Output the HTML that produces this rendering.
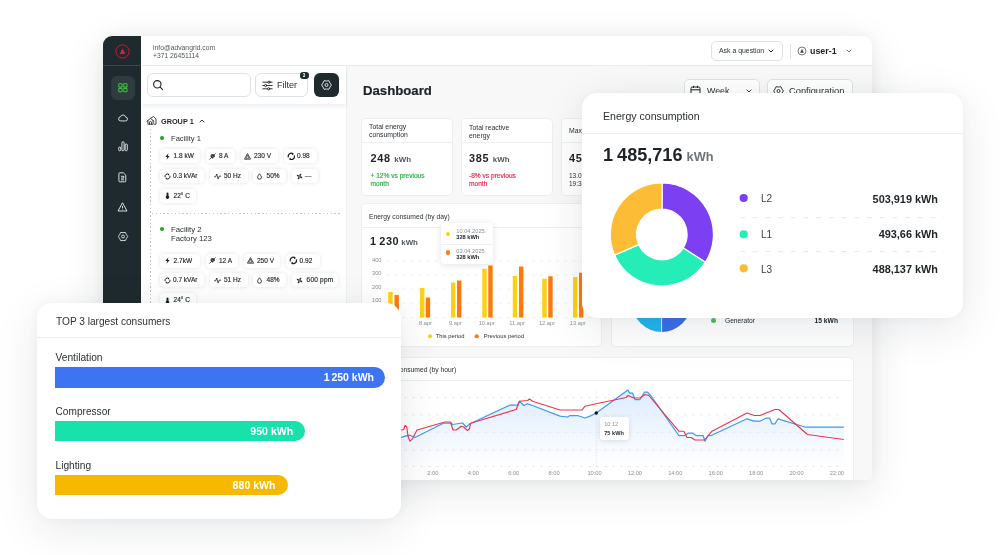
<!DOCTYPE html>
<html><head><meta charset="utf-8">
<style>
*{box-sizing:border-box;margin:0;padding:0}
html,body{width:1000px;height:555px;overflow:hidden;background:#fff}
body{font-family:"Liberation Sans",sans-serif;color:#1d2326;position:relative}
.a{position:absolute}
.t{position:absolute;white-space:nowrap;line-height:10px;font-size:6.5px}
.b{font-weight:bold}
.g{color:#8a9094}
#win{left:103px;top:36px;width:769px;height:444px;border-radius:9px 9px 4px 4px;background:#f8f8f8;box-shadow:0 10px 40px rgba(30,40,50,.11),0 0 14px rgba(30,40,50,.05);overflow:hidden}
#o{left:-103px;top:-36px;width:1000px;height:555px}
#side{left:103px;top:36px;width:38.500px;height:444px;background:#1e2a2d}
#top{left:141px;top:36px;width:731px;height:30px;background:#fff;border-bottom:1px solid #e9ebec}
#lp{left:141px;top:66px;width:206px;height:415px;background:#fff;border-right:1px solid #eef0f1}
#sb{left:141px;top:66px;width:205px;height:38px;background:#fff;box-shadow:0 2px 4px rgba(60,90,140,.10)}
.card{position:absolute;background:#fff;border:1px solid #eceeef;border-radius:5px}
.hr{position:absolute;height:1px;background:#eceeef}
.chip{position:absolute;height:14px;border-radius:4px;background:#fff;box-shadow:0 0 4px rgba(0,0,0,.11);font-size:6.5px;line-height:14.7px;white-space:nowrap;color:#1d2326;-webkit-text-stroke:0.15px #1d2326}
.chip b{position:absolute;top:0;font-weight:normal}
.chip svg{position:absolute;top:3.5px;width:7px;height:7px}
.big{position:absolute;border-radius:15px;background:#fff;box-shadow:0 10px 44px rgba(30,40,60,.10),0 0 12px rgba(30,40,60,.035)}
.btn{position:absolute;background:#fff;border:1px solid #dfe2e4;border-radius:5px}
.dot{position:absolute;border-radius:50%}
</style></head><body>

<div id="win" class="a"><div id="o" class="a">
  <div id="side" class="a"></div>
  <div id="top" class="a"></div>
  <div id="lp" class="a"></div>
  
  <svg class="a" style="left:146px;top:115px" width="11" height="11" viewBox="0 0 11 11" fill="none" stroke="#1d2326" stroke-width="0.85" stroke-linejoin="round" stroke-linecap="round"><path d="M4.800 3 L7.500 1.500 L10 4 V9.200 H8.200"/><path d="M1 6.200 L4.500 3.400 L8 6.200"/><path d="M1.900 5.600 V9.200 H7.100 V5.600"/><path d="M3.500 9.200 V7.400 a1 1 0 0 1 2 0 V9.200"/></svg>
  <div class="t b" style="left:161px;top:116.700px;font-size:7.3px">GROUP 1</div>
  <svg class="a" style="left:199px;top:118.500px" width="6" height="4" viewBox="0 0 6 4" fill="none" stroke="#1d2326" stroke-width="0.9"><path d="M0.7 3.3 L3 1 L5.3 3.300"/></svg>
  <div class="a" style="left:150px;top:129.300px;width:1px;height:360px;background:repeating-linear-gradient(180deg,#bfc3c6 0 1.3px,transparent 1.3px 3.75px)"></div>
  <div class="dot" style="left:160px;top:136px;width:4px;height:4px;background:#23a127"></div>
  <div class="t" style="left:171px;top:133.6px;font-size:7.6px;color:#2a3033">Facility 1</div>
  <div class="a" style="left:152px;top:213px;width:190px;height:1px;background:repeating-linear-gradient(90deg,#c3c7c9 0 1.5px,transparent 1.5px 3.800px)"></div>
  <div class="dot" style="left:159.800px;top:227.2px;width:4px;height:4px;background:#23a127"></div>
  <div class="t" style="left:171px;top:224.6px;font-size:7.75px;color:#2a3033">Facility 2</div>
  <div class="t" style="left:171px;top:233.8px;font-size:7.75px;color:#2a3033">Factory 123</div>

<div class="chip" style="left:160.0px;top:149.0px;width:39.6px"><svg style="left:4.1px" viewBox="0 0 7 7"><path d="M4.5 0.3 L1.3 4.1 H3.2 L2.5 6.8 L5.7 2.9 H3.800 Z" fill="#1d2326"/></svg><b style="left:13.6px">1.8 kW</b></div>
<div class="chip" style="left:205.6px;top:149.0px;width:29.8px"><svg style="left:3.3px" viewBox="0 0 7 7"><g fill="none" stroke="#1d2326" stroke-width="0.8" stroke-linecap="round"><path d="M2.2 2.600 L4.400 4.800 A1.600 1.600 0 0 1 2.2 2.600 Z M3 1.800 L5.2 4 A1.600 1.600 0 0 0 3 1.800 Z" fill="#1d2326"/><path d="M0.7 6.3 L2 5 M5 2 L6.3 0.7"/></g></svg><b style="left:13.4px">8 A</b></div>
<div class="chip" style="left:241.0px;top:149.0px;width:36.6px"><svg style="left:3.1px" viewBox="0 0 7 7"><g fill="none" stroke="#1d2326" stroke-width="0.8" stroke-linejoin="round"><path d="M3.5 0.600 L6.600 6.200 H0.4 Z"/><path d="M3.500 2.200 L2 5.200 H5 Z" stroke-width="0.6"/></g></svg><b style="left:13.0px">230 V</b></div>
<div class="chip" style="left:283.6px;top:149.0px;width:33.0px"><svg style="left:3.0px;top:2.6px;width:8.8px;height:8.8px" viewBox="0 0 7 7"><g fill="none" stroke="#1d2326" stroke-width="1"><path d="M1.150 4.300 A2.450 2.450 0 0 1 4.700 1.350"/><path d="M5.850 2.700 A2.450 2.450 0 0 1 2.300 5.650"/><path d="M3.900 0.400 L5.600 1.500 L4.100 2.500 Z M3.100 6.600 L1.400 5.500 L2.900 4.500 Z" stroke="none" fill="#1d2326"/></g></svg><b style="left:13.4px">0.98</b></div>
<div class="chip" style="left:160.0px;top:253.8px;width:39.6px"><svg style="left:4.1px" viewBox="0 0 7 7"><path d="M4.5 0.3 L1.3 4.1 H3.2 L2.5 6.8 L5.7 2.9 H3.800 Z" fill="#1d2326"/></svg><b style="left:13.6px">2.7kW</b></div>
<div class="chip" style="left:205.6px;top:253.8px;width:32.4px"><svg style="left:3.3px" viewBox="0 0 7 7"><g fill="none" stroke="#1d2326" stroke-width="0.8" stroke-linecap="round"><path d="M2.2 2.600 L4.400 4.800 A1.600 1.600 0 0 1 2.2 2.600 Z M3 1.800 L5.2 4 A1.600 1.600 0 0 0 3 1.800 Z" fill="#1d2326"/><path d="M0.7 6.3 L2 5 M5 2 L6.3 0.7"/></g></svg><b style="left:13.4px">12 A</b></div>
<div class="chip" style="left:243.6px;top:253.8px;width:36.8px"><svg style="left:3.1px" viewBox="0 0 7 7"><g fill="none" stroke="#1d2326" stroke-width="0.8" stroke-linejoin="round"><path d="M3.5 0.600 L6.600 6.200 H0.4 Z"/><path d="M3.500 2.200 L2 5.200 H5 Z" stroke-width="0.6"/></g></svg><b style="left:13.4px">250 V</b></div>
<div class="chip" style="left:286.0px;top:253.8px;width:33.6px"><svg style="left:3.0px;top:2.6px;width:8.8px;height:8.8px" viewBox="0 0 7 7"><g fill="none" stroke="#1d2326" stroke-width="1"><path d="M1.150 4.300 A2.450 2.450 0 0 1 4.700 1.350"/><path d="M5.850 2.700 A2.450 2.450 0 0 1 2.300 5.650"/><path d="M3.900 0.400 L5.600 1.500 L4.100 2.500 Z M3.100 6.600 L1.400 5.500 L2.900 4.500 Z" stroke="none" fill="#1d2326"/></g></svg><b style="left:13.6px">0.92</b></div>
<div class="chip" style="left:160.0px;top:169.0px;width:44.4px"><svg style="left:4.1px" viewBox="0 0 7 7"><g fill="none" stroke="#1d2326" stroke-width="1"><path d="M1.150 4.300 A2.450 2.450 0 0 1 4.700 1.350"/><path d="M5.850 2.700 A2.450 2.450 0 0 1 2.300 5.650"/><path d="M3.900 0.400 L5.600 1.500 L4.100 2.500 Z M3.100 6.600 L1.400 5.500 L2.900 4.500 Z" stroke="none" fill="#1d2326"/></g></svg><b style="left:13.0px">0.3 kVAr</b></div>
<div class="chip" style="left:210.0px;top:169.0px;width:37.6px"><svg style="left:3.9px" viewBox="0 0 7 7"><path d="M0.2 3.800 H1.700 L2.700 1 L4.200 6 L5.200 3.200 H6.800" fill="none" stroke="#1d2326" stroke-width="0.8" stroke-linejoin="round" stroke-linecap="round"/></svg><b style="left:14.0px">50 Hz</b></div>
<div class="chip" style="left:252.6px;top:169.0px;width:33.4px"><svg style="left:3.9px" viewBox="0 0 7 7"><path d="M3.5 0.800 C4.600 2.200 5.400 3.200 5.400 4.300 A1.900 1.900 0 0 1 1.600 4.300 C1.600 3.200 2.400 2.200 3.500 0.800 Z" fill="none" stroke="#1d2326" stroke-width="0.900"/></svg><b style="left:14.0px">50%</b></div>
<div class="chip" style="left:291.6px;top:169.0px;width:26.4px"><svg style="left:4.3px" viewBox="0 0 7 7"><g fill="#1d2326"><path d="M3.500 3.500 C3 1.800 3.800 0.600 5.200 0.800 C5.600 1.800 4.800 2.800 3.500 3.500 Z"/><path d="M3.500 3.500 C5.200 3 6.400 3.800 6.200 5.200 C5.200 5.600 4.200 4.800 3.500 3.500 Z"/><path d="M3.500 3.500 C4 5.200 3.200 6.400 1.800 6.200 C1.400 5.200 2.200 4.200 3.500 3.500 Z"/><path d="M3.500 3.500 C1.800 4 0.600 3.200 0.800 1.800 C1.800 1.400 2.800 2.200 3.500 3.500 Z"/></g></svg><b style="left:13.4px">—</b></div>
<div class="chip" style="left:160.0px;top:273.4px;width:44.4px"><svg style="left:4.1px" viewBox="0 0 7 7"><g fill="none" stroke="#1d2326" stroke-width="1"><path d="M1.150 4.300 A2.450 2.450 0 0 1 4.700 1.350"/><path d="M5.850 2.700 A2.450 2.450 0 0 1 2.300 5.650"/><path d="M3.900 0.400 L5.600 1.500 L4.100 2.500 Z M3.100 6.600 L1.400 5.500 L2.900 4.500 Z" stroke="none" fill="#1d2326"/></g></svg><b style="left:13.0px">0.7 kVAr</b></div>
<div class="chip" style="left:210.0px;top:273.4px;width:37.6px"><svg style="left:3.9px" viewBox="0 0 7 7"><path d="M0.2 3.800 H1.700 L2.700 1 L4.200 6 L5.200 3.200 H6.800" fill="none" stroke="#1d2326" stroke-width="0.8" stroke-linejoin="round" stroke-linecap="round"/></svg><b style="left:14.0px">51 Hz</b></div>
<div class="chip" style="left:252.6px;top:273.4px;width:33.4px"><svg style="left:3.9px" viewBox="0 0 7 7"><path d="M3.5 0.800 C4.600 2.200 5.400 3.200 5.400 4.300 A1.900 1.900 0 0 1 1.600 4.300 C1.600 3.200 2.400 2.200 3.500 0.800 Z" fill="none" stroke="#1d2326" stroke-width="0.900"/></svg><b style="left:14.0px">48%</b></div>
<div class="chip" style="left:291.6px;top:273.4px;width:46.4px"><svg style="left:4.3px" viewBox="0 0 7 7"><g fill="#1d2326"><path d="M3.500 3.500 C3 1.800 3.800 0.600 5.200 0.800 C5.600 1.800 4.800 2.800 3.500 3.500 Z"/><path d="M3.500 3.500 C5.200 3 6.400 3.800 6.200 5.200 C5.200 5.600 4.200 4.800 3.500 3.500 Z"/><path d="M3.500 3.500 C4 5.200 3.200 6.400 1.800 6.200 C1.400 5.200 2.200 4.200 3.500 3.500 Z"/><path d="M3.500 3.500 C1.800 4 0.600 3.200 0.800 1.800 C1.800 1.400 2.800 2.200 3.500 3.500 Z"/></g></svg><b style="left:15.0px;letter-spacing:0.22px">600 ppm</b></div>
<div class="chip" style="left:160.0px;top:188.6px;width:36.4px"><svg style="left:4.1px" viewBox="0 0 7 7"><g fill="#1d2326"><path d="M3.500 0.400 A1 1 0 0 1 4.500 1.400 V3.700 A1.700 1.700 0 1 1 2.500 3.700 V1.400 A1 1 0 0 1 3.500 0.400 Z"/></g></svg><b style="left:13.6px">22° C</b></div>
<div class="chip" style="left:160.0px;top:293.4px;width:36.4px"><svg style="left:4.1px" viewBox="0 0 7 7"><g fill="#1d2326"><path d="M3.500 0.400 A1 1 0 0 1 4.500 1.400 V3.700 A1.700 1.700 0 1 1 2.500 3.700 V1.400 A1 1 0 0 1 3.500 0.400 Z"/></g></svg><b style="left:13.6px">24° C</b></div>
  <div id="sb" class="a"></div>
  
  <div class="btn" style="left:147px;top:72.600px;width:104px;height:24.400px;border-radius:6px"></div>
  <svg class="a" style="left:152px;top:79px" width="12" height="12" viewBox="0 0 12 12" fill="none" stroke="#1d2326" stroke-width="1.1" stroke-linecap="round"><circle cx="5.3" cy="5.3" r="3.7"/><path d="M8.2 8.2 L10.6 10.6"/></svg>
  <div class="btn" style="left:255.300px;top:72.600px;width:53.200px;height:24.400px;border-radius:6px"></div>
  <svg class="a" style="left:262px;top:79.500px" width="11" height="11" viewBox="0 0 11 11" fill="none" stroke="#1d2326" stroke-width="0.9" stroke-linecap="round"><path d="M0.8 2.2 H10.2 M0.8 5.5 H10.2 M0.8 8.800 H10.2"/><circle cx="7" cy="2.2" r="1.1" fill="#fff"/><circle cx="3.6" cy="5.5" r="1.1" fill="#fff"/><circle cx="6.6" cy="8.800" r="1.1" fill="#fff"/></svg>
  <div class="t" style="left:277px;top:80px;font-size:9px;color:#2a3033">Filter</div>
  <div class="a" style="left:299.500px;top:72.400px;width:9px;height:6.400px;border-radius:3.200px;background:#1e2a2d"></div>
  <div class="t b" style="left:299.500px;top:70.600px;width:9px;text-align:center;font-size:4.5px;color:#fff">3</div>
  <div class="a" style="left:314.200px;top:72.600px;width:24.800px;height:24.400px;border-radius:6px;background:#1e2a2d"></div>
  <svg class="a" style="left:321px;top:79px" width="11" height="12" viewBox="0 0 11 12" fill="none" stroke="#fff" stroke-width="0.85" stroke-linejoin="round"><path d="M10.40 6.00 Q8.81 7.91 7.95 10.24 Q5.50 9.82 3.05 10.24 Q2.19 7.91 0.60 6.00 Q2.19 4.09 3.05 1.76 Q5.50 2.18 7.95 1.76 Q8.81 4.09 10.40 6.00 Z"/><circle cx="5.5" cy="6" r="1.5"/></svg>

  
  <div class="a" style="left:103px;top:65px;width:38px;height:1px;background:#3a4649"></div>
  <svg class="a" style="left:114.300px;top:42.600px" width="17" height="17" viewBox="0 0 17 17"><circle cx="8.5" cy="8.5" r="6.600" fill="none" stroke="#d5213f" stroke-width="0.85"/><path d="M8.5 4.900 L9.200 7.300 L9.900 7.300 L10.300 9.500 L11.200 9.900 L11.200 11 L5.800 11 L5.800 9.900 L6.700 9.500 L7.100 7.300 L7.800 7.300 Z" fill="#d5213f"/></svg>
  <div class="a" style="left:111px;top:75.5px;width:24px;height:24px;border-radius:6px;background:#2e3c40"></div>
  <svg class="a" style="left:118.300px;top:83.200px" width="10" height="10" viewBox="0 0 10 10" fill="none" stroke="#3cc13b" stroke-width="1.05"><rect x="0.800" y="0.800" width="3.300" height="3.300" rx="0.450"/><rect x="5.700" y="0.800" width="3.300" height="3.300" rx="0.450"/><rect x="0.800" y="5.500" width="3.300" height="3.300" rx="0.450"/><rect x="5.700" y="5.500" width="3.300" height="3.300" rx="0.450"/></svg>
  <svg class="a" style="left:117.600px;top:113.800px" width="10" height="8" viewBox="0 0 11 9" fill="none" stroke="#eef0f1" stroke-width="1"><path d="M3 7.800 a2.300 2.300 0 0 1 -0.300 -4.600 a3 3 0 0 1 5.800 0.300 a2.100 2.100 0 0 1 -0.300 4.300 Z"/></svg>
  <svg class="a" style="left:117.500px;top:141.400px" width="10" height="10.500" viewBox="0 0 10 10.500" fill="none" stroke="#eef0f1" stroke-width="0.900"><rect x="0.700" y="6" width="2" height="3.800" rx="1"/><rect x="3.900" y="0.700" width="2.200" height="9.100" rx="1.100"/><rect x="7.200" y="3" width="2.100" height="6.800" rx="1.050"/></svg>
  <svg class="a" style="left:118.200px;top:172px" width="9" height="10.500" viewBox="0 0 9 10.500" fill="none" stroke="#eef0f1" stroke-width="0.900" stroke-linejoin="round"><path d="M1.800 0.800 h3.600 l2.400 2.400 v5.700 a0.900 0.900 0 0 1 -0.900 0.900 h-5.100 a0.900 0.900 0 0 1 -0.900 -0.900 v-7.200 a0.900 0.900 0 0 1 0.900 -0.900 Z"/><path d="M3 4.300 h2.800 v1.800 h-2.800 M3 7.800 h3"/></svg>
  <svg class="a" style="left:117px;top:201px" width="11" height="12" viewBox="0 0 11 12" fill="none" stroke="#eef0f1" stroke-width="0.900" stroke-linejoin="round"><path d="M5.5 1.8 L10 10 H1 Z"/><path d="M5.5 5 v2.4 M5.5 8.6 v0.4"/></svg>
  <svg class="a" style="left:117.700px;top:231.400px" width="11" height="12" viewBox="0.300 0.300 11.400 12.400" fill="none" stroke="#eef0f1" stroke-width="0.9" stroke-linejoin="round"><path d="M10.40 6.00 Q8.81 7.91 7.95 10.24 Q5.50 9.82 3.05 10.24 Q2.19 7.91 0.60 6.00 Q2.19 4.09 3.05 1.76 Q5.50 2.18 7.95 1.76 Q8.81 4.09 10.40 6.00 Z"/><circle cx="5.5" cy="6" r="1.5"/></svg>

  
  <div class="t" style="left:153px;top:42.5px;font-size:6.75px;color:#50575b">info@advangrid.com</div>
  <div class="t" style="left:153px;top:50.5px;font-size:6.75px;color:#50575b">+371 26451114</div>
  <div class="btn" style="left:710.500px;top:40.600px;width:72px;height:20.800px;border-radius:5px"></div>
  <div class="t" style="left:719px;top:46.300px;font-size:6.9px;color:#2a3033">Ask a question</div>
  <svg class="a" style="left:768px;top:49px" width="6" height="4" viewBox="0 0 6 4" fill="none" stroke="#1d2326" stroke-width="1"><path d="M0.7 0.7 L3 3 L5.3 0.7"/></svg>
  <div class="a" style="left:790px;top:44px;width:1px;height:15px;background:#dfe2e4"></div>
  <svg class="a" style="left:797px;top:46px" width="10" height="10" viewBox="0 0 10 10"><circle cx="5" cy="5" r="4" fill="none" stroke="#3a4245" stroke-width="0.7"/><path d="M5 2.8 L6.8 6.8 H3.2 Z" fill="#3a4245"/></svg>
  <div class="t b" style="left:810px;top:45.5px;font-size:8.9px">user-1</div>
  <svg class="a" style="left:846px;top:49px" width="6" height="4" viewBox="0 0 6 4" fill="none" stroke="#50575b" stroke-width="0.8"><path d="M0.7 0.7 L3 3 L5.3 0.7"/></svg>

  
  <div class="t b" style="left:363px;top:83px;font-size:13.2px;line-height:16px;-webkit-text-stroke:0.2px">Dashboard</div>
  <div class="btn" style="left:684.300px;top:79px;width:76px;height:23px;border-radius:5px"></div>
  <svg class="a" style="left:690px;top:85px" width="11" height="11" viewBox="0 0 11 11" fill="none" stroke="#1d2326" stroke-width="1"><rect x="1" y="2" width="9" height="8" rx="1.5"/><path d="M1 4.800 H10 M3.500 0.800 V3 M7.500 0.800 V3"/></svg>
  <div class="t" style="left:707px;top:85.5px;font-size:8.8px;color:#2a3033">Week</div>
  <svg class="a" style="left:746px;top:89px" width="6" height="4" viewBox="0 0 6 4" fill="none" stroke="#1d2326" stroke-width="0.9"><path d="M0.700 0.700 L3 3 L5.300 0.700"/></svg>
  <div class="btn" style="left:766.600px;top:79px;width:86px;height:23px;border-radius:5px"></div>
  <svg class="a" style="left:773px;top:84.500px" width="11" height="12" viewBox="0 0 11 12" fill="none" stroke="#1d2326" stroke-width="0.900" stroke-linejoin="round"><path d="M10.40 6.00 Q8.81 7.91 7.95 10.24 Q5.50 9.82 3.05 10.24 Q2.19 7.91 0.60 6.00 Q2.19 4.09 3.05 1.76 Q5.50 2.18 7.95 1.76 Q8.81 4.09 10.40 6.00 Z"/><circle cx="5.500" cy="6" r="1.500"/></svg>
  <div class="t" style="left:789px;top:85.500px;font-size:9.3px;color:#2a3033">Configuration</div>

  <div class="card" style="left:361px;top:118px;width:92px;height:77.500px"></div>
  <div class="hr" style="left:362px;top:142px;width:90px"></div>
  <div class="t" style="left:369px;top:121.800px;font-size:6.85px;color:#2a3033">Total energy</div>
  <div class="t" style="left:369px;top:129.800px;font-size:6.85px;color:#2a3033">consumption</div>
  <div class="t b" style="left:370.500px;top:152px;font-size:10.9px;line-height:13px;letter-spacing:0.65px">248 <span style="font-size:7.9px;color:#50575b;letter-spacing:0">kWh</span></div>
  <div class="t" style="left:370.5px;top:171.0px;font-size:6.6px;-webkit-text-stroke:0.18px;color:#2bb24c">+ 12% vs previous</div>
  <div class="t" style="left:370.5px;top:179.0px;font-size:6.6px;-webkit-text-stroke:0.18px;color:#2bb24c">month</div>

  <div class="card" style="left:461px;top:118px;width:92px;height:77.500px"></div>
  <div class="hr" style="left:462px;top:142px;width:90px"></div>
  <div class="t" style="left:469px;top:122.500px;font-size:6.85px;color:#2a3033">Total reactive</div>
  <div class="t" style="left:469px;top:130.500px;font-size:6.85px;color:#2a3033">energy</div>
  <div class="t b" style="left:469px;top:152px;font-size:10.9px;line-height:13px;letter-spacing:0.65px">385 <span style="font-size:7.9px;color:#50575b;letter-spacing:0">kWh</span></div>
  <div class="t" style="left:469px;top:171.0px;font-size:6.6px;-webkit-text-stroke:0.18px;color:#ee2c4f">-8% vs previous</div>
  <div class="t" style="left:469px;top:179.0px;font-size:6.6px;-webkit-text-stroke:0.18px;color:#ee2c4f">month</div>

  <div class="card" style="left:561px;top:118px;width:92px;height:77.500px"></div>
  <div class="hr" style="left:562px;top:142px;width:90px"></div>
  <div class="t" style="left:569px;top:126px;font-size:6.85px;color:#2a3033">Max</div>
  <div class="t b" style="left:569px;top:152px;font-size:10.9px;line-height:13px;letter-spacing:0.65px">45</div>
  <div class="t" style="left:569px;top:171.0px;color:#2a3033">13.0</div>
  <div class="t" style="left:569px;top:179.0px;color:#2a3033">19:3</div>

  <div class="card" style="left:361px;top:203px;width:241px;height:144px"></div>
  <div class="hr" style="left:362px;top:227px;width:239px"></div>
  <div class="t" style="left:369px;top:211.500px;font-size:6.75px;color:#2a3033">Energy consumed (by day)</div>
  <div class="t b" style="left:370px;top:235.300px;font-size:10.9px;line-height:13px;letter-spacing:0.65px;word-spacing:-1.2px">1 230 <span style="font-size:7.900px;color:#50575b;letter-spacing:0;margin-left:-0.5px">kWh</span></div>
  <svg class="a" style="left:361px;top:203px" width="241" height="144" viewBox="361 203 241 144" font-family="Liberation Sans, sans-serif">
<line x1="386" x2="594" y1="261.1" y2="261.1" stroke="#e6e8e9" stroke-width="0.7" stroke-dasharray="2.8 5.3"/><line x1="386" x2="594" y1="275" y2="275" stroke="#e6e8e9" stroke-width="0.7" stroke-dasharray="2.8 5.3"/><line x1="386" x2="594" y1="289.25" y2="289.25" stroke="#e6e8e9" stroke-width="0.7" stroke-dasharray="2.8 5.3"/><line x1="386" x2="594" y1="303.25" y2="303.25" stroke="#e6e8e9" stroke-width="0.7" stroke-dasharray="2.8 5.3"/><line x1="386" x2="594" y1="317.5" y2="317.5" stroke="#e6e8e9" stroke-width="0.7" stroke-dasharray="2.8 5.3"/>
<text x="381.500" y="262.1" font-size="5.7" fill="#8a9094" text-anchor="end">400</text><text x="381.500" y="275.1" font-size="5.7" fill="#8a9094" text-anchor="end">300</text><text x="381.500" y="289.1" font-size="5.7" fill="#8a9094" text-anchor="end">200</text><text x="381.500" y="302.1" font-size="5.7" fill="#8a9094" text-anchor="end">100</text>
<rect x="388.25" y="292" width="4.4" height="25.5" fill="#ffd011"/><rect x="394.5" y="295" width="4.4" height="22.5" fill="#ff7a0c"/><text x="394.3" y="324.600" font-size="5.7" fill="#8a9094" text-anchor="middle">7.apr</text>
<rect x="420" y="288" width="4.4" height="29.5" fill="#ffd011"/><rect x="425.75" y="297.5" width="4.4" height="20.0" fill="#ff7a0c"/><text x="425.5" y="324.600" font-size="5.7" fill="#8a9094" text-anchor="middle">8.apr</text>
<rect x="451" y="282.5" width="4.4" height="35.0" fill="#ffd011"/><rect x="457" y="280.5" width="4.4" height="37.0" fill="#ff7a0c"/><text x="455.4" y="324.600" font-size="5.7" fill="#8a9094" text-anchor="middle">9.apr</text>
<rect x="482.25" y="268.75" width="4.4" height="48.75" fill="#ffd011"/><rect x="488.25" y="265.5" width="4.4" height="52.0" fill="#ff7a0c"/><text x="486.75" y="324.600" font-size="5.7" fill="#8a9094" text-anchor="middle">10.apr</text>
<rect x="512.75" y="276" width="4.4" height="41.5" fill="#ffd011"/><rect x="519" y="266.5" width="4.4" height="51.0" fill="#ff7a0c"/><text x="517.1" y="324.600" font-size="5.7" fill="#8a9094" text-anchor="middle">11.apr</text>
<rect x="542.25" y="278.75" width="4.4" height="38.75" fill="#ffd011"/><rect x="548.25" y="276.25" width="4.4" height="41.25" fill="#ff7a0c"/><text x="547" y="324.600" font-size="5.7" fill="#8a9094" text-anchor="middle">12.apr</text>
<rect x="573" y="277" width="4.4" height="40.5" fill="#ffd011"/><rect x="579" y="272.75" width="4.4" height="44.75" fill="#ff7a0c"/><text x="577.9" y="324.600" font-size="5.7" fill="#8a9094" text-anchor="middle">13.apr</text>
<circle cx="430" cy="336.250" r="2.1" fill="#ffd011"/><text x="435.750" y="338.300" font-size="5.800" fill="#2a3033">This period</text><circle cx="476.750" cy="336.250" r="2.1" fill="#ff7a0c"/><text x="483.750" y="338.300" font-size="5.800" fill="#2a3033">Previous period</text>
</svg>
  <div class="a" style="left:441.250px;top:222.600px;width:51.250px;height:41.500px;border-radius:4px;background:#fff;box-shadow:0 1px 6px rgba(0,0,0,.12)"></div>
  <div class="hr" style="left:441.250px;top:244px;width:51.250px;background:#eef0f1"></div>
  <div class="dot" style="left:445.800px;top:232.050px;width:4.400px;height:4.400px;background:#ffd011"></div>
  <div class="t g" style="left:456.250px;top:225.600px;font-size:5.700px">10.04.2025.</div>
  <div class="t b" style="left:456.250px;top:232.100px;font-size:5.700px">328 kWh</div>
  <div class="dot" style="left:445.800px;top:250.300px;width:4.400px;height:4.400px;background:#ff7a0c"></div>
  <div class="t g" style="left:456.250px;top:245.600px;font-size:5.700px">03.04.2025.</div>
  <div class="t b" style="left:456.250px;top:251.850px;font-size:5.700px">328 kWh</div>

  <div class="card" style="left:611px;top:203px;width:242.500px;height:144px"></div>
  <svg class="a" style="left:631px;top:272px" width="62" height="62" viewBox="0 0 62 62"><path d="M30.600 30.400 L30.600 60 A29.600 29.600 0 0 1 1 30.400 Z" fill="#22b5ea"/><path d="M30.600 30.400 L60.200 30.400 A29.600 29.600 0 0 1 30.600 60 Z" fill="#3b6fe8"/><path d="M30.600 30 V60.500" stroke="#fff" stroke-width="0.800"/></svg>
  <div class="dot" style="left:710.700px;top:318px;width:5px;height:5px;background:#5cb85c"></div>
  <div class="t" style="left:725px;top:315.500px;font-size:6.650px;color:#2a3033">Generator</div>
  <div class="t b" style="left:788px;top:315.500px;width:50px;text-align:right;font-size:6.700px">15 kWh</div>

  <div class="card" style="left:361px;top:357.200px;width:492.500px;height:130px"></div>
  <div class="hr" style="left:362px;top:380px;width:490px"></div>
  <div class="t" style="left:373px;top:364.500px;font-size:6.75px;color:#2a3033">Energy consumed (by hour)</div>
  <svg class="a" style="left:361px;top:357px" width="492" height="123" viewBox="361 357 492 123" font-family="Liberation Sans, sans-serif">
<defs><linearGradient id="lg" x1="0" y1="0" x2="0" y2="1"><stop offset="0" stop-color="#dcebfd"/><stop offset="1" stop-color="#ffffff" stop-opacity="0.9"/></linearGradient></defs>
<polygon points="355.0,432.5 380.0,436.2 401.2,437.5 405.0,436.2 410.0,435.2 415.0,437.5 443.8,423.0 451.2,423.0 452.5,424.5 462.5,423.0 466.2,427.0 470.0,423.8 510.0,405.0 517.5,405.0 519.5,401.2 523.8,405.5 527.5,403.8 532.5,405.5 560.0,416.2 567.5,417.0 570.0,415.5 577.5,415.5 585.0,418.0 590.0,416.2 596.2,413.0 626.2,391.2 628.0,390.0 629.5,393.0 632.5,393.0 635.0,399.5 640.0,399.5 644.5,392.0 647.5,392.0 651.2,396.2 678.8,435.5 685.0,435.5 688.0,433.2 692.5,433.2 696.2,435.5 703.0,435.5 705.0,441.2 708.0,435.5 711.2,435.5 747.0,418.8 753.8,421.2 760.0,421.2 766.2,418.0 769.5,418.0 772.0,423.8 775.0,423.8 778.0,418.8 805.0,427.0 843.8,427.0 843.8,467 355,467" fill="url(#lg)"/>
<line x1="372" x2="843.8" y1="397.5" y2="397.5" stroke="#e1e4e6" stroke-width="0.7" stroke-dasharray="3 5"/><line x1="372" x2="843.8" y1="415" y2="415" stroke="#e1e4e6" stroke-width="0.7" stroke-dasharray="3 5"/><line x1="372" x2="843.8" y1="432.3" y2="432.3" stroke="#e1e4e6" stroke-width="0.7" stroke-dasharray="3 5"/><line x1="372" x2="843.8" y1="450" y2="450" stroke="#e1e4e6" stroke-width="0.7" stroke-dasharray="3 5"/><line x1="372" x2="843.8" y1="466.5" y2="466.5" stroke="#e1e4e6" stroke-width="0.7" stroke-dasharray="3 5"/>
<line x1="596.25" x2="596.25" y1="390" y2="466" stroke="#c9cdd0" stroke-width="0.6" stroke-dasharray="1 1.5"/>
<polyline points="355.0,432.5 380.0,436.2 401.2,437.5 405.0,436.2 410.0,435.2 415.0,437.5 443.8,423.0 451.2,423.0 452.5,424.5 462.5,423.0 466.2,427.0 470.0,423.8 510.0,405.0 517.5,405.0 519.5,401.2 523.8,405.5 527.5,403.8 532.5,405.5 560.0,416.2 567.5,417.0 570.0,415.5 577.5,415.5 585.0,418.0 590.0,416.2 596.2,413.0 626.2,391.2 628.0,390.0 629.5,393.0 632.5,393.0 635.0,399.5 640.0,399.5 644.5,392.0 647.5,392.0 651.2,396.2 678.8,435.5 685.0,435.5 688.0,433.2 692.5,433.2 696.2,435.5 703.0,435.5 705.0,441.2 708.0,435.5 711.2,435.5 747.0,418.8 753.8,421.2 760.0,421.2 766.2,418.0 769.5,418.0 772.0,423.8 775.0,423.8 778.0,418.8 805.0,427.0 843.8,427.0" fill="none" stroke="#3d9bf0" stroke-width="1.25" stroke-linejoin="round"/>
<polyline points="355.0,431.2 380.0,430.5 401.2,430.0 403.8,429.5 405.0,425.5 406.8,427.0 408.0,436.2 410.0,441.2 412.5,438.8 417.0,430.0 445.0,422.0 450.5,422.0 453.0,430.0 456.2,430.0 461.2,426.2 463.8,427.0 467.5,430.5 469.5,428.8 470.5,423.2 516.2,409.5 519.5,401.2 527.5,400.5 529.5,399.0 532.5,401.2 560.0,410.0 582.0,410.0 585.0,406.2 596.2,403.8 626.2,397.5 628.0,395.5 633.8,398.0 640.0,398.0 645.0,394.5 648.8,395.5 678.8,431.2 683.8,431.2 687.0,437.5 691.2,437.5 695.0,440.0 704.5,440.0 712.0,431.2 747.0,413.0 754.5,415.5 760.0,415.5 775.0,409.5 778.8,409.5 807.5,434.5 843.8,439.5" fill="none" stroke="#f0344f" stroke-width="1.15" stroke-linejoin="round"/>
<circle cx="596.25" cy="413" r="1.700" fill="#111"/>
<text x="432.9" y="475.300" font-size="5.7" fill="#8a9094" text-anchor="middle">2:00</text><text x="473.3" y="475.300" font-size="5.7" fill="#8a9094" text-anchor="middle">4:00</text><text x="513.7" y="475.300" font-size="5.7" fill="#8a9094" text-anchor="middle">6:00</text><text x="554.1" y="475.300" font-size="5.7" fill="#8a9094" text-anchor="middle">8:00</text><text x="594.5" y="475.300" font-size="5.7" fill="#8a9094" text-anchor="middle">10:00</text><text x="634.9" y="475.300" font-size="5.7" fill="#8a9094" text-anchor="middle">12:00</text><text x="675.3" y="475.300" font-size="5.7" fill="#8a9094" text-anchor="middle">14:00</text><text x="715.7" y="475.300" font-size="5.7" fill="#8a9094" text-anchor="middle">16:00</text><text x="756.1" y="475.300" font-size="5.7" fill="#8a9094" text-anchor="middle">18:00</text><text x="796.5" y="475.300" font-size="5.7" fill="#8a9094" text-anchor="middle">20:00</text><text x="836.9" y="475.300" font-size="5.7" fill="#8a9094" text-anchor="middle">22:00</text>
</svg>
  <div class="a" style="left:600px;top:417px;width:29px;height:23px;border-radius:3px;background:#fff;box-shadow:0 1px 5px rgba(0,0,0,.12)"></div>
  <div class="t g" style="left:604.250px;top:419px;font-size:5.5px">10:12</div>
  <div class="t b" style="left:604.250px;top:427.500px;font-size:5.600px">75 kWh</div>


</div></div>

<div class="big" style="left:582px;top:93px;width:381px;height:225px"></div>
<div class="hr" style="left:582px;top:133px;width:381px;background:#e9ebec"></div>
<div class="t" style="left:603px;top:110px;font-size:10.6px;line-height:12px;color:#2a3033">Energy consumption</div>
<div class="t b" style="left:603px;top:144px;font-size:18.1px;line-height:22px;word-spacing:-1px">1 485,716 <span style="font-size:12.8px;color:#6e7579">kWh</span></div>
<svg class="a" style="left:582px;top:93px" width="381" height="225" viewBox="582 93 381 225">
<path d="M662.12 182.90 A51.6 51.6 0 0 1 705.42 262.15 L683.21 248.06 A25.3 25.3 0 0 0 661.98 209.20 Z" fill="#7c3ff2" stroke="#fff" stroke-width="1.2" stroke-linejoin="round"/><path d="M705.42 262.15 A51.6 51.6 0 0 1 614.53 255.08 L638.65 244.59 A25.3 25.3 0 0 0 683.21 248.06 Z" fill="#25edb7" stroke="#fff" stroke-width="1.2" stroke-linejoin="round"/><path d="M614.53 255.08 A51.6 51.6 0 0 1 662.12 182.90 L661.98 209.20 A25.3 25.3 0 0 0 638.65 244.59 Z" fill="#fdbc36" stroke="#fff" stroke-width="1.2" stroke-linejoin="round"/>
<line x1="740" x2="944" y1="217.700" y2="217.700" stroke="#e2e5e7" stroke-width="0.900" stroke-dasharray="5 7.700"/>
<line x1="740" x2="944" y1="251.600" y2="251.600" stroke="#e2e5e7" stroke-width="0.900" stroke-dasharray="5 7.700"/>
<circle cx="743.700" cy="198" r="4.100" fill="#7c3ff2"/><circle cx="743.700" cy="234.300" r="4.100" fill="#25edb7"/><circle cx="743.700" cy="268.300" r="4.100" fill="#fdbc36"/>
</svg>
<div class="t" style="left:761px;top:192.7px;font-size:10px;line-height:12px;color:#3a4245">L2</div>
<div class="t" style="left:761px;top:228.9px;font-size:10px;line-height:12px;color:#3a4245">L1</div>
<div class="t" style="left:761px;top:263.5px;font-size:10px;line-height:12px;color:#3a4245">L3</div>
<div class="t b" style="left:798px;top:192.5px;width:140px;text-align:right;font-size:10.9px;line-height:12px">503,919 kWh</div>
<div class="t b" style="left:798px;top:228.1px;width:140px;text-align:right;font-size:10.9px;line-height:12px">493,66 kWh</div>
<div class="t b" style="left:798px;top:263.3px;width:140px;text-align:right;font-size:10.9px;line-height:12px">488,137 kWh</div>

<div class="big" style="left:37px;top:303px;width:364px;height:216px"></div>
<div class="hr" style="left:37px;top:337px;width:364px;background:#e9ebec"></div>
<div class="t" style="left:56px;top:316.1px;font-size:10.15px;line-height:12px;color:#2a3033">TOP 3 largest consumers</div>
<div class="t" style="left:55.500px;top:351.8px;font-size:10.2px;line-height:12px;color:#2a3033">Ventilation</div>
<div class="a" style="left:54.500px;top:367px;width:330.500px;height:20.500px;border-radius:0 10.500px 10.500px 0;background:#3d74f2"></div>
<div class="t b" style="left:274px;top:370.800px;width:100px;text-align:right;font-size:10.5px;line-height:12px;color:#fff"><span style="letter-spacing:-0.6px">1 </span>250 kWh</div>
<div class="t" style="left:55.500px;top:405.8px;font-size:10.15px;line-height:12px;color:#2a3033">Compressor</div>
<div class="a" style="left:54.500px;top:421px;width:250.500px;height:20px;border-radius:0 10px 10px 0;background:#18e2ac"></div>
<div class="t b" style="left:193.300px;top:425px;width:100px;text-align:right;font-size:10.6px;line-height:12px;color:#fff">950 kWh</div>
<div class="t" style="left:55.500px;top:460.1px;font-size:10.2px;line-height:12px;color:#2a3033">Lighting</div>
<div class="a" style="left:54.500px;top:475.400px;width:233.500px;height:20px;border-radius:0 10px 10px 0;background:#f6b900"></div>
<div class="t b" style="left:175.600px;top:479.400px;width:100px;text-align:right;font-size:10.6px;line-height:12px;color:#fff">880 kWh</div>


</body></html>
